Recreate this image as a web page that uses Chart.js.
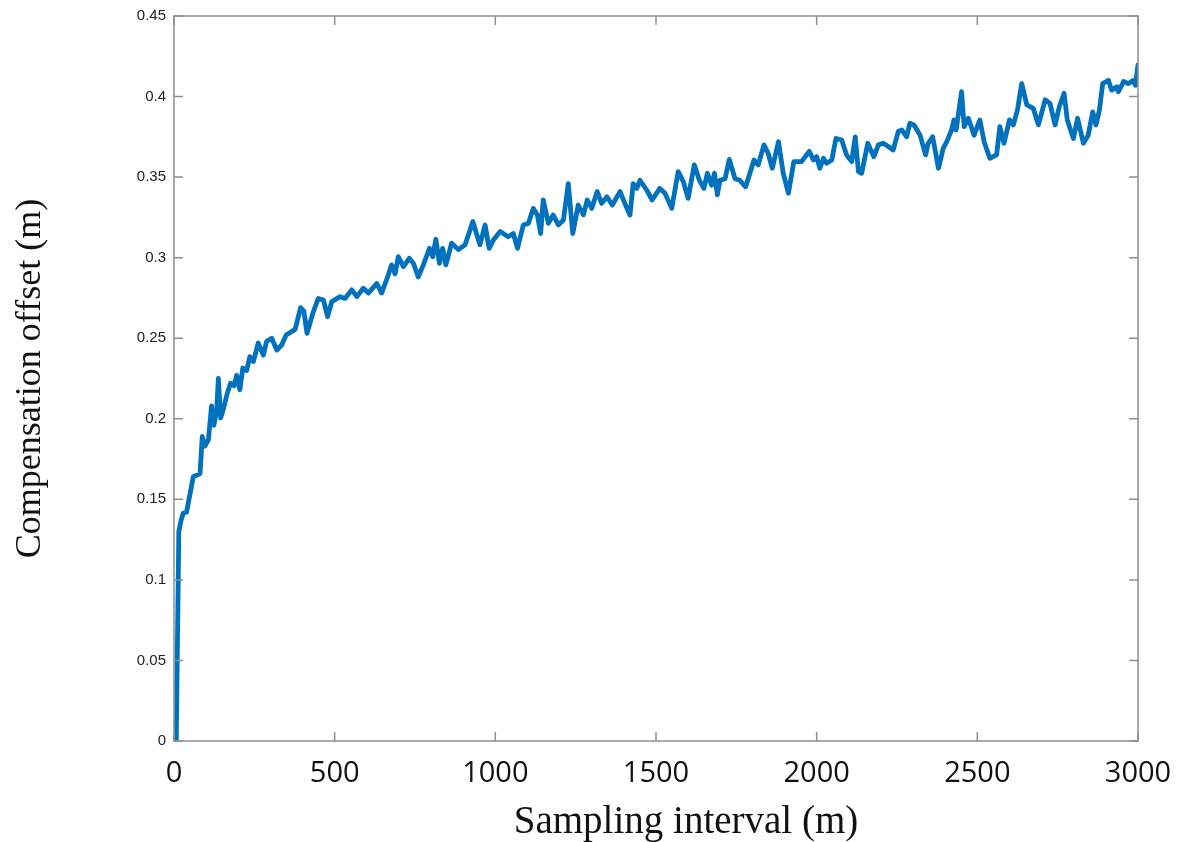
<!DOCTYPE html>
<html>
<head>
<meta charset="utf-8">
<title>Compensation offset</title>
<script src="https://cdn.jsdelivr.net/npm/chart.js@4.4.1/dist/chart.umd.min.js"></script>
<style>
    html, body { margin: 0; padding: 0; background: #fff; }
</style>
</head>
<body>
<canvas id="offset-chart" width="1187" height="842"></canvas>
<script>
// Données : intervalle d'échantillonnage (m) et décalage de compensation (m)
const intervals = [
    7, 15, 22, 29, 39, 60, 81, 88, 96, 107, 117, 124, 133, 138, 145, 153, 166, 176, 187, 195,
    205, 214, 226, 236, 247, 262, 278, 288, 304, 320, 335, 349, 377, 394, 404, 414, 432, 449, 465, 478,
    491, 517, 532, 553, 569, 589, 605, 631, 646, 662, 677, 688, 698, 714, 732, 745, 760, 776, 795, 805,
    815, 826, 836, 846, 864, 885, 906, 930, 952, 968, 981, 994, 1015, 1040, 1056, 1069, 1087, 1103, 1118, 1131,
    1141, 1149, 1165, 1180, 1196, 1212, 1227, 1241, 1258, 1274, 1286, 1300, 1317, 1331, 1347, 1364, 1388, 1403, 1419, 1429,
    1440, 1450, 1471, 1488, 1512, 1528, 1549, 1569, 1585, 1600, 1619, 1635, 1649, 1660, 1673, 1682, 1691, 1699, 1715, 1728,
    1746, 1761, 1779, 1805, 1818, 1836, 1849, 1862, 1881, 1896, 1912, 1929, 1953, 1977, 1990, 2000, 2010, 2021, 2031, 2047,
    2060, 2078, 2093, 2109, 2120, 2130, 2140, 2159, 2178, 2192, 2207, 2223, 2238, 2254, 2265, 2280, 2290, 2303, 2322, 2339,
    2347, 2361, 2379, 2394, 2405, 2420, 2427, 2434, 2451, 2459, 2472, 2490, 2508, 2521, 2539, 2560, 2570, 2583, 2600, 2612,
    2625, 2638, 2654, 2674, 2690, 2711, 2726, 2742, 2755, 2770, 2780, 2799, 2812, 2830, 2845, 2859, 2869, 2880, 2890, 2908,
    2918, 2934, 2939, 2955, 2970, 2984, 2992, 3000
];
const offsets = [
    0, 0.13, 0.137, 0.1415, 0.142, 0.164, 0.166, 0.189, 0.183, 0.187, 0.208, 0.196, 0.2055, 0.225, 0.2005, 0.2055, 0.216, 0.222, 0.2205, 0.227,
    0.218, 0.2315, 0.23, 0.2385, 0.2355, 0.247, 0.2395, 0.248, 0.25, 0.2427, 0.2458, 0.252, 0.2555, 0.269, 0.267, 0.253, 0.2655, 0.2747, 0.2737, 0.2634,
    0.2727, 0.2758, 0.2747, 0.28, 0.2758, 0.281, 0.278, 0.284, 0.278, 0.2865, 0.2955, 0.29, 0.3006, 0.2944, 0.2996, 0.2965, 0.288, 0.2955, 0.3058, 0.3006,
    0.3114, 0.2965, 0.3058, 0.2955, 0.309, 0.305, 0.308, 0.3224, 0.308, 0.3203, 0.3058, 0.311, 0.3162, 0.313, 0.315, 0.3058, 0.3203, 0.3213, 0.3306, 0.3265,
    0.315, 0.3358, 0.3213, 0.3265, 0.3203, 0.3234, 0.346, 0.315, 0.3327, 0.3265, 0.3358, 0.3306, 0.341, 0.3337, 0.3378, 0.3327, 0.341, 0.3337, 0.3265, 0.346,
    0.343, 0.348, 0.342, 0.3358, 0.343, 0.34, 0.3306, 0.3534, 0.3472, 0.3368, 0.3576, 0.348, 0.343, 0.3524, 0.345, 0.3524, 0.339, 0.348, 0.349, 0.361,
    0.349, 0.348, 0.344, 0.3606, 0.3576, 0.37, 0.3648, 0.3555, 0.372, 0.3524, 0.34, 0.3596, 0.3596, 0.366, 0.3606, 0.3627, 0.3555, 0.3617, 0.3586, 0.3606,
    0.374, 0.373, 0.3638, 0.3596, 0.375, 0.3534, 0.3524, 0.371, 0.3627, 0.37, 0.371, 0.369, 0.3668, 0.3783, 0.3793, 0.375, 0.3834, 0.3824, 0.376, 0.3638,
    0.371, 0.375, 0.3555, 0.368, 0.372, 0.3793, 0.3855, 0.3793, 0.403, 0.3813, 0.3865, 0.376, 0.3855, 0.372, 0.3617, 0.3638, 0.3813, 0.371, 0.3855, 0.3824,
    0.3917, 0.408, 0.3948, 0.3927, 0.3824, 0.398, 0.3958, 0.3824, 0.3937, 0.402, 0.3855, 0.374, 0.3865, 0.371, 0.376, 0.3905, 0.3824, 0.3917, 0.408, 0.41,
    0.404, 0.406, 0.403, 0.4093, 0.408, 0.41, 0.407, 0.4196
];

const xTicks = [0, 500, 1000, 1500, 2000, 2500, 3000];
const yTicks = [0, 0.05, 0.1, 0.15, 0.2, 0.25, 0.3, 0.35, 0.4, 0.45];
const xTitle = 'Sampling interval (m)';
const yTitle = 'Compensation offset (m)';

// Cadre autour de la zone de tracé, graduations vers l'intérieur sur les 4 côtés
const frameBox = {
    id: 'frameBox',
    afterDraw(chart) {
        const { ctx, chartArea: a, scales: { x, y } } = chart;
        const len = 9;
        ctx.save();
        ctx.strokeStyle = '#8f8f8f';
        ctx.lineWidth = 1.5;
        ctx.strokeRect(a.left, a.top, a.right - a.left, a.bottom - a.top);
        ctx.beginPath();
        xTicks.forEach(v => {
            const px = x.getPixelForValue(v);
            ctx.moveTo(px, a.bottom); ctx.lineTo(px, a.bottom - len);
            ctx.moveTo(px, a.top); ctx.lineTo(px, a.top + len);
        });
        yTicks.forEach(v => {
            const py = y.getPixelForValue(v);
            ctx.moveTo(a.left, py); ctx.lineTo(a.left + len, py);
            ctx.moveTo(a.right, py); ctx.lineTo(a.right - len, py);
        });
        ctx.stroke();

        // Titre de l'axe X
        ctx.fillStyle = '#111';
        ctx.font = '39px "Liberation Serif"';
        ctx.textAlign = 'center';
        ctx.textBaseline = 'middle';
        ctx.fillText(xTitle, (a.left + a.right) / 2 + 30, a.bottom + 82);
        ctx.restore();
    }
};

const offsetChart = new Chart(
    document.getElementById('offset-chart'),
    {
        type: 'line',
        data: {
            datasets: [{
                label: 'Compensation offset',
                data: intervals.map((v, i) => ({ x: v, y: offsets[i] })),
                borderColor: 'rgb(0, 114, 189)',
                borderWidth: 4.8,
                borderJoinStyle: 'round',
                borderCapStyle: 'round',
                pointRadius: 0,
                tension: 0
            }]
        },
        options: {
            animation: false,
            responsive: false,
            layout: {
                padding: { top: 16, right: 49, left: 0, bottom: 0 }
            },
            plugins: {
                legend: { display: false },
                tooltip: { enabled: false }
            },
            scales: {
                x: {
                    type: 'linear',
                    min: 0,
                    max: 3000,
                    afterBuildTicks: s => { s.ticks = xTicks.map(v => ({ value: v })); },
                    afterFit: s => { s.height = 101; },
                    grid: { display: false },
                    border: { display: false },
                    ticks: {
                        padding: 7,
                        color: '#111',
                        font: { family: '"Open Sans"', size: 29 },
                        maxRotation: 0,
                        callback: v => String(v)
                    }
                },
                y: {
                    type: 'linear',
                    min: 0,
                    max: 0.45,
                    afterBuildTicks: s => { s.ticks = yTicks.map(v => ({ value: v })); },
                    afterFit: s => { s.width = 174; },
                    grid: { display: false },
                    border: { display: false },
                    title: {
                        display: true,
                        text: yTitle,
                        color: '#111',
                        font: { family: '"Liberation Serif"', size: 36 },
                        padding: { top: 9, bottom: 0 }
                    },
                    ticks: {
                        padding: 0,
                        color: '#222',
                        font: { family: '"Liberation Sans"', size: 15 },
                        callback: v => String(v)
                    }
                }
            }
        },
        plugins: [frameBox]
    }
);
</script>
</body>
</html>
